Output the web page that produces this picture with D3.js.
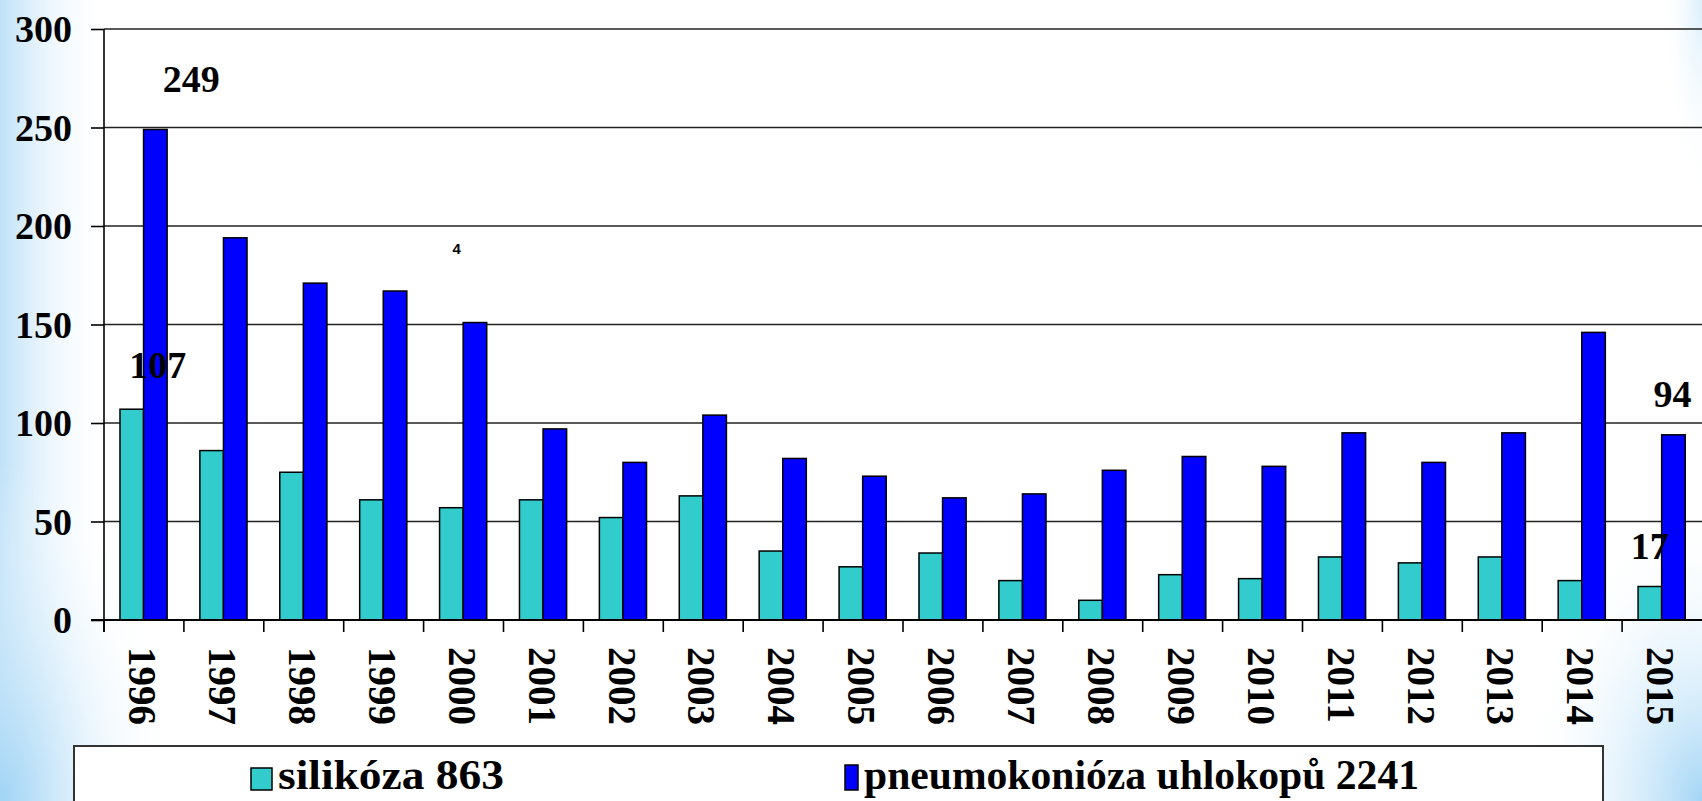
<!DOCTYPE html>
<html>
<head>
<meta charset="utf-8">
<script src="https://cdn.jsdelivr.net/npm/d3@7"></script>
<style>
    body { margin: 0; background: #fff; }
    svg text { font-family: "Liberation Serif", "Times New Roman", serif; font-weight: bold; fill: #000; }
</style>
</head>
<body>
<div id="chart"></div>
<script>
// data
const years = ["1996", "1997", "1998", "1999", "2000", "2001", "2002", "2003", "2004", "2005",
    "2006", "2007", "2008", "2009", "2010", "2011", "2012", "2013", "2014", "2015"];
const silikoza = [107, 86, 75, 61, 57, 61, 52, 63, 35, 27, 34, 20, 10, 23, 21, 32, 29, 32, 20, 17];
const pneumokonioza = [249, 194, 171, 167, 151, 97, 80, 104, 82, 73, 62, 64, 76, 83, 78, 95, 80, 95, 146, 94];
const seriesNames = ["silikóza 863", "pneumokonióza uhlokopů 2241"];
const yTicks = [0, 50, 100, 150, 200, 250, 300];
// labels that sit on the chart (series index -1 = loose text)
const noteYears = ["1996", "1996", "2015", "2015", "2000"];
const noteSeries = [1, 0, 1, 0, -1];
const noteValues = [249, 107, 94, 17, 183];
const noteTexts = ["249", "107", "94", "17", "4"];

const width = 1702, height = 801;
const margin = { top: 29, left: 104, right: 0, bottom: 181 };
const colors = ["#33cccc", "#0000ff"];

let svg = d3.select("#chart")
    .append("svg")
    .attr("width", width)
    .attr("height", height);

// slide background, blue glow on the edges
let defs = svg.append("defs");
let leftGrad = defs.append("linearGradient").attr("id", "leftGlow")
    .attr("x1", 0).attr("x2", 1).attr("y1", 0).attr("y2", 0);
leftGrad.append("stop").attr("offset", "0%").attr("stop-color", "#bfe1f8").attr("stop-opacity", 1);
leftGrad.append("stop").attr("offset", "100%").attr("stop-color", "#ffffff").attr("stop-opacity", 0);

function radial(id, color) {
    let g = defs.append("radialGradient").attr("id", id);
    g.append("stop").attr("offset", "0%").attr("stop-color", color).attr("stop-opacity", 0.95);
    g.append("stop").attr("offset", "100%").attr("stop-color", "#ffffff").attr("stop-opacity", 0);
}
radial("cornerGlow", "#9fd3f5");

svg.append("rect").attr("width", width).attr("height", height).attr("fill", "#fff");
svg.append("rect").attr("width", 110).attr("height", height).attr("fill", "url(#leftGlow)");
svg.append("ellipse").attr("cx", 0).attr("cy", height).attr("rx", 180).attr("ry", 340)
    .attr("fill", "url(#cornerGlow)");
svg.append("ellipse").attr("cx", width).attr("cy", height).attr("rx", 180).attr("ry", 300)
    .attr("fill", "url(#cornerGlow)");
svg.append("ellipse").attr("cx", width).attr("cy", 0).attr("rx", 40).attr("ry", 200)
    .attr("fill", "url(#cornerGlow)").attr("opacity", 0.4);

// scales
let x0 = d3.scaleBand()
    .domain(years)
    .range([margin.left, width - margin.right]);

let x1 = d3.scaleBand()
    .domain([0, 1])
    .range([x0.bandwidth() * 0.2, x0.bandwidth() * 0.79]);

let y = d3.scaleLinear()
    .domain([0, 300])
    .range([height - margin.bottom, margin.top]);

const y0 = y(0);

// gridlines
svg.append("g")
    .selectAll("line")
    .data(yTicks.filter(d => d > 0))
    .enter()
    .append("line")
    .attr("x1", margin.left)
    .attr("x2", width)
    .attr("y1", d => y(d))
    .attr("y2", d => y(d))
    .style("stroke", "#222")
    .style("stroke-width", 1.6);

// y axis
let yAxis = svg.append("g")
    .attr("transform", `translate(${margin.left}, 0)`)
    .call(d3.axisLeft(y).tickValues(yTicks).tickSize(13).tickSizeOuter(0).tickPadding(19));
yAxis.select(".domain").remove();
yAxis.selectAll("line").style("stroke", "#000").style("stroke-width", 1.6);
yAxis.selectAll("text").style("font-size", "38px").attr("dy", "0.33em");

svg.append("line")
    .attr("x1", margin.left).attr("x2", margin.left)
    .attr("y1", y(300)).attr("y2", y0 + 12)
    .style("stroke", "#000").style("stroke-width", 1.6);

// bars
let groups = svg.append("g")
    .selectAll("g")
    .data(years)
    .enter()
    .append("g")
    .attr("transform", d => `translate(${x0(d)}, 0)`);

groups.selectAll("rect")
    .data((d, i) => [silikoza[i], pneumokonioza[i]])
    .enter()
    .append("rect")
    .attr("x", (d, i) => x1(i))
    .attr("width", x1.bandwidth())
    .attr("y", d => y(d))
    .attr("height", d => y0 - y(d))
    .style("fill", (d, i) => colors[i])
    .style("stroke", "#000")
    .style("stroke-width", 1.5);

// x axis: base line, ticks between the years, rotated labels
svg.append("line")
    .attr("x1", margin.left - 13).attr("x2", width)
    .attr("y1", y0).attr("y2", y0)
    .style("stroke", "#000").style("stroke-width", 2.2);

svg.append("g")
    .selectAll("line")
    .data(years)
    .enter()
    .append("line")
    .attr("x1", d => x0(d)).attr("x2", d => x0(d))
    .attr("y1", y0).attr("y2", y0 + 12)
    .style("stroke", "#000").style("stroke-width", 1.6);

svg.append("g")
    .selectAll("text")
    .data(years)
    .enter()
    .append("text")
    .attr("transform", d => `translate(${x0(d) + x0.bandwidth() / 2}, ${y0 + 27}) rotate(90)`)
    .attr("dy", "0.38em")
    .style("font-size", "39px")
    .text(d => d);

// labels on the bars
const noteShift = { "249": [36, -37], "107": [26, -31], "94": [-1, -28], "17": [0, -28], "4": [-7, -5] };
noteTexts.forEach(function (t, i) {
    let s = noteSeries[i];
    let cx = x0(noteYears[i]) + (s < 0 ? x0.bandwidth() / 2 : x1(s) + x1.bandwidth() / 2);
    svg.append("text")
        .attr("x", cx + noteShift[t][0])
        .attr("y", y(noteValues[i]) + noteShift[t][1])
        .attr("text-anchor", "middle")
        .style("font-size", s < 0 ? "15px" : "38px")
        .style("font-family", s < 0 ? "'Liberation Sans', Arial, sans-serif" : null)
        .text(t);
});

// legend
let legend = svg.append("g");
legend.append("rect")
    .attr("x", 74).attr("y", 746)
    .attr("width", 1529).attr("height", 80)
    .style("fill", "#fff")
    .style("stroke", "#333")
    .style("stroke-width", 2);

const legendX = [251, 845];
const legendBox = [[21, 22], [13, 25]];
const legendTextW = [226, 555];
seriesNames.forEach(function (name, i) {
    legend.append("rect")
        .attr("x", legendX[i])
        .attr("y", 790 - legendBox[i][1])
        .attr("width", legendBox[i][0])
        .attr("height", legendBox[i][1])
        .style("fill", colors[i])
        .style("stroke", "#000")
        .style("stroke-width", 1.5);
    legend.append("text")
        .attr("x", legendX[i] + legendBox[i][0] + 6)
        .attr("y", 789)
        .attr("textLength", legendTextW[i])
        .attr("lengthAdjust", "spacingAndGlyphs")
        .style("font-size", "42px")
        .text(name);
});
</script>
</body>
</html>
